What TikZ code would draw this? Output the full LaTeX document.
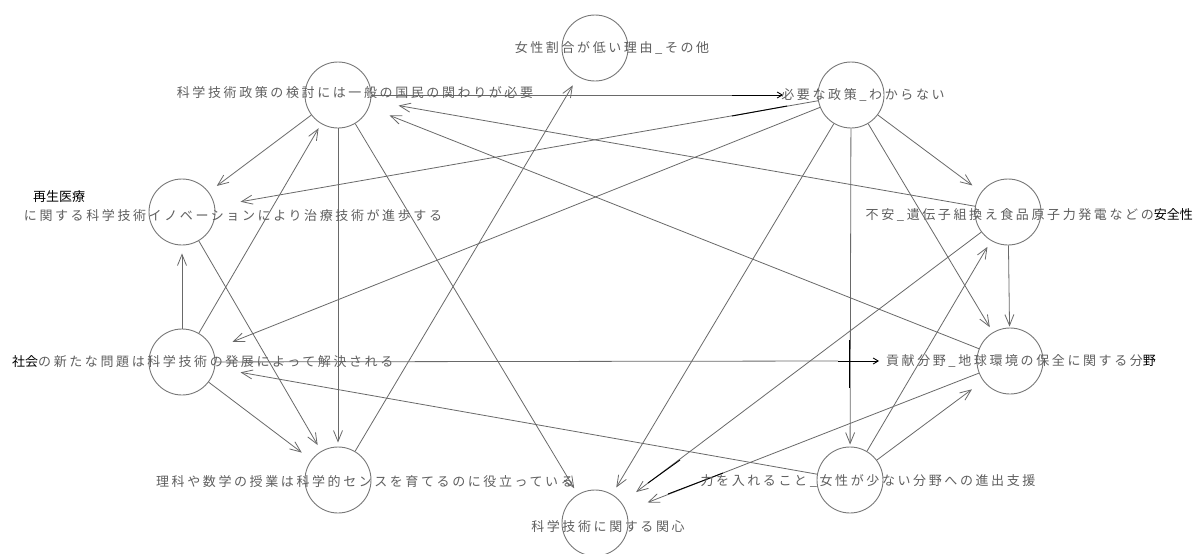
\documentclass[tikz,border=0pt]{standalone}
\usepackage{fontspec}
\usetikzlibrary{arrows.meta}
\newfontfamily\jpg[LetterSpace=20]{Noto Sans CJK JP}
\newfontfamily\jpb{Noto Sans CJK JP}
\definecolor{txtgray}{RGB}{95,95,95}
\definecolor{edgegray}{RGB}{105,105,105}
\definecolor{circgray}{RGB}{120,120,120}
\newcommand{\bk}[1]{{\jpb\color{black}#1}}
\tikzset{
  vert/.style={circle, draw=circgray, line width=0.9pt, minimum size=66pt, inner sep=0pt},
  lab/.style={inner sep=0pt, text=txtgray, font=\jpg\fontsize{13}{15}\selectfont},
  labb/.style={inner sep=0pt, text=black, font=\jpb\fontsize{13}{15}\selectfont},
  conn/.style={draw=edgegray, line width=0.8pt, -{Straight Barb[length=11pt,width=9pt,line width=0.8pt]}, shorten >=#1},
  conn/.default=4pt,
  plainline/.style={draw=edgegray, line width=0.8pt},
  blkmark/.style={draw=black, line width=0.9pt},
  blkarrow/.style={draw=black, line width=0.9pt, -{Straight Barb[length=5pt,width=6pt,line width=0.9pt]}}
}
\begin{document}
\begin{tikzpicture}[x=1pt,y=-1pt]
\useasboundingbox[fill=white] (0,0) rectangle (1194,554);
% vertices
\node[vert] (A) at (595,48) {};
\node[vert] (B) at (338,95) {};
\node[vert] (C) at (851,95) {};
\node[vert] (D) at (182,212) {};
\node[vert] (E) at (1008,212) {};
\node[vert] (F) at (182,362) {};
\node[vert] (G) at (1010,361) {};
\node[vert] (H) at (338,480) {};
\node[vert] (I) at (595,523) {};
\node[vert] (J) at (850,480) {};
% helper coordinates
\coordinate (cBC) at (732,95);
\coordinate (tBC) at (783,95);
\coordinate (cFG) at (838,361);
\coordinate (tFG) at (879,361);
% edges
\draw[conn=28pt] (E) -- (B);
\draw[conn=22pt] (G) -- (B);
\draw[conn=26pt] (C) -- (D);
\draw[conn=21pt] (C) -- (F);
\draw[conn=26pt] (J) -- (F);
\draw[conn=10pt] (B) -- (D);
\draw[conn=8pt] (F) -- (D);
\draw[conn=7pt] (D) -- (H);
\draw[conn=12pt] (F) -- (H);
\draw[conn=7pt] (B) -- (I);
\draw[conn=8pt] (C) -- (I);
\draw[conn=18pt] (E) -- (I);
\draw[conn=23pt] (G) -- (I);
\draw[conn=11pt] (C) -- (E);
\draw[conn=6pt] (C) -- (G);
\draw[conn=1pt] (E) -- (G);
\draw[conn=7pt] (J) -- (E);
\draw[conn=14pt] (J) -- (G);
\draw[conn=2pt] (C) -- (J);
\draw[conn=4pt] (B) -- (H);
\draw[conn=10pt] (H) -- (A);
\draw[conn=5pt] (F) -- (B);
\draw[plainline] (B) -- (cBC);
\draw[blkarrow] (cBC) -- (tBC);
\draw[plainline] (F) -- (cFG);
\draw[blkarrow] (cFG) -- (tFG);
% black marks
\draw[blkmark] (732,116) -- (787,106);
\draw[blkmark] (849,340) -- (849,388);
\draw[blkmark] (648,483) -- (680,460);
\draw[blkmark] (668,494) -- (723,473);
% labels
\node[lab] (lA) at (612,48) {女性割合が低い理由\_その他};
\node[lab] (lB) at (355,93) {科学技術政策の検討には一般の国民の関わりが必要};
\node[lab] (lC) at (863,95) {必要な政策\_わからない};
\node[labb, anchor=west] (lD1) at (33,197) {再生医療};
\node[lab] (lD2) at (233,216) {に関する科学技術イノベーションにより治療技術が進歩する};
\node[lab, anchor=east] (lE) at (1193,215) {不安\_遺伝子組換え食品原子力発電などの\bk{安全性}};
\node[lab, anchor=west] (lF) at (12,362) {\bk{社会}の新たな問題は科学技術の発展によって解決される};
\node[lab] (lG) at (1021,361) {貢献分野\_地球環境の保全に関する分\bk{野}};
\node[lab] (lH) at (365,482) {理科や数学の授業は科学的センスを育てるのに役立っている};
\node[lab] (lI) at (608,527) {科学技術に関する関心};
\node[lab] (lJ) at (868,481) {力を入れること\_女性が少ない分野への進出支援};
\end{tikzpicture}
\end{document}
